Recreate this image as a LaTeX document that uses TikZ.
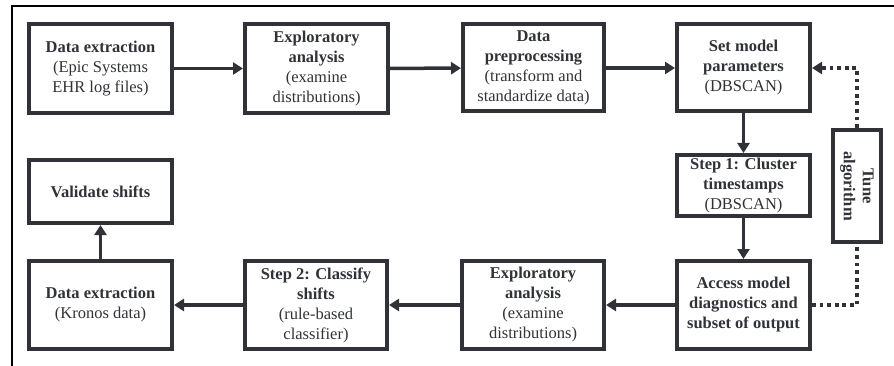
\documentclass[tikz,border=0pt]{standalone}
\usepackage{fontspec}
\setmainfont{Liberation Serif}
\usetikzlibrary{arrows.meta}
\definecolor{inkgray}{RGB}{48,50,55}
\tikzset{
	stage/.style={draw=inkgray, line width=4pt, align=center, inner sep=2pt,
		font=\fontsize{16.5}{20}\selectfont, text=inkgray},
	flow/.style={draw=inkgray, line width=3.5pt, -{Triangle[length=10pt,width=12pt]}},
	tuneline/.style={draw=inkgray, line width=3.8pt, dash pattern=on 3.8pt off 3.8pt}
}
\begin{document}
\begin{tikzpicture}[x=1pt,y=-1pt]
		\useasboundingbox (0,0) rectangle (894,366);
		% outer frame
		\draw[line width=1.6pt] (12,366) -- (12,6) -- (894,6);
		% top row
		\node[stage, minimum width=143pt, minimum height=89pt] (extract) at (100.5,68.5)
			{\textbf{Data extraction}\\(Epic Systems\\EHR log files)};
		\node[stage, minimum width=143pt, minimum height=89pt] (explore) at (316.5,68.5)
			{\textbf{Exploratory}\\\textbf{analysis}\\(examine\\distributions)};
		\node[stage, minimum width=141pt, minimum height=87pt] (preproc) at (533.5,68)
			{\textbf{Data}\\\textbf{preprocessing}\\(transform and\\standardize data)};
		\node[stage, minimum width=133pt, minimum height=87pt] (setparam) at (743.5,68)
			{\textbf{Set model}\\\textbf{parameters}\\(DBSCAN)};
		% right column
		\node[stage, minimum width=133pt, minimum height=61pt] (cluster) at (743.5,185.5)
			{\textbf{Step 1: Cluster}\\\textbf{timestamps}\\(DBSCAN)};
		\node[stage, minimum width=48pt, minimum height=112pt] (tune) at (857,186) {};
		\node[font=\fontsize{16.5}{19}\selectfont\bfseries, text=inkgray, align=center, rotate=-90]
			(tunetext) at (tune.center) {Tune\\algorithm};
		% bottom row
		\node[stage, minimum width=133pt, minimum height=88pt] (diagn) at (743.5,305)
			{\textbf{Access model}\\\textbf{diagnostics and}\\\textbf{subset of output}};
		\node[stage, minimum width=142pt, minimum height=88pt] (explore2) at (533,305)
			{\textbf{Exploratory}\\\textbf{analysis}\\(examine\\distributions)};
		\node[stage, minimum width=142pt, minimum height=88pt] (classify) at (316,305)
			{\textbf{Step 2: Classify}\\\textbf{shifts}\\(rule-based\\classifier)};
		\node[stage, minimum width=143pt, minimum height=88pt] (kronos) at (100.5,305)
			{\textbf{Data extraction}\\(Kronos data)};
		\node[stage, minimum width=143pt, minimum height=63pt] (validate) at (100.5,191.5)
			{\textbf{Validate shifts}};
		% arrows
		\draw[flow] (extract) -- (explore);
		\draw[flow] (explore) -- (preproc);
		\draw[flow] (preproc) -- (setparam);
		\draw[flow] (setparam) -- (cluster);
		\draw[flow] (cluster) -- (diagn);
		\draw[flow] (diagn) -- (explore2);
		\draw[flow] (explore2) -- (classify);
		\draw[flow] (classify) -- (kronos);
		\draw[flow] (kronos) -- (validate);
		% tuning loop
		\draw[tuneline] (diagn.east) -| (tune.south);
		\draw[tuneline, -{Triangle[length=10pt,width=12pt]}] (tune.north) |- (setparam.east);
	\end{tikzpicture}
\end{document}
